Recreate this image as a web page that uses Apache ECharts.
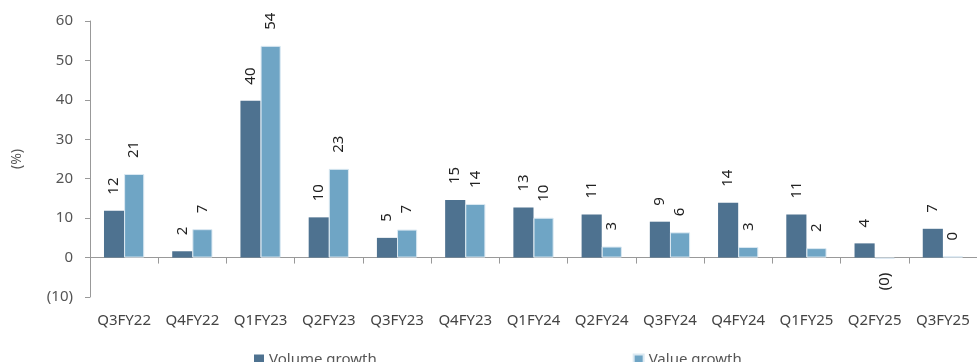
<!DOCTYPE html>
<html>
<head>
<meta charset="utf-8">
<script src="https://cdn.jsdelivr.net/npm/echarts@6/dist/echarts.min.js"></script>
<style>
  html, body { margin: 0; padding: 0; background: #fff; }
  #chart { width: 977px; height: 362px; }
</style>
</head>
<body>
<div id="chart"></div>
<script>
var quarters = ['Q3FY22', 'Q4FY22', 'Q1FY23', 'Q2FY23', 'Q3FY23', 'Q4FY23', 'Q1FY24',
    'Q2FY24', 'Q3FY24', 'Q4FY24', 'Q1FY25', 'Q2FY25', 'Q3FY25'];
var volumeGrowth = [11.9, 1.6, 39.8, 10.2, 5.0, 14.6, 12.7, 10.9, 9.1, 13.9, 10.9, 3.6, 7.3];
var valueGrowth = [21.2, 7.2, 53.7, 22.5, 7.1, 13.6, 10.1, 2.8, 6.4, 2.7, 2.4, -0.3, 0.3];
var yTicks = { min: -10, max: 60, interval: 10 };

function fmt(v) {
    var r = Math.round(Math.abs(v));
    return v < 0 ? '(' + r + ')' : '' + r;
}

function toItems(arr) {
    return arr.map(function (v) {
        if (v < 0) {
            return { value: v, label: { position: 'bottom', align: 'right', distance: 14 } };
        }
        return v;
    });
}

var labelStyle = {
    show: true,
    position: 'top',
    rotate: 90,
    align: 'left',
    verticalAlign: 'middle',
    distance: 16,
    fontSize: 15,
    color: '#222',
    fontFamily: 'Noto Sans',
    formatter: function (p) { return fmt(p.value); }
};

var myChart = echarts.init(document.getElementById('chart'));
var option = {
    backgroundColor: '#fff',
    animation: false,
    textStyle: { fontFamily: 'Noto Sans' },
    grid: { left: 90, right: 0, top: 21, bottom: 65, outerBoundsMode: 'none', containLabel: false },
    legend: {
        left: 249,
        top: 347,
        itemGap: 256,
        itemWidth: 10,
        itemHeight: 10,
        icon: 'rect',
        textStyle: { fontSize: 15, color: '#555' },
        data: ['Volume growth', 'Value growth']
    },
    xAxis: {
        type: 'category',
        data: quarters,
        axisLine: { onZero: true, lineStyle: { color: '#999' } },
        axisTick: { show: true, length: 6, lineStyle: { color: '#999' } },
        axisLabel: { margin: 16, fontSize: 15, color: '#444', interval: 0 }
    },
    yAxis: {
        type: 'value',
        min: yTicks.min,
        max: yTicks.max,
        interval: yTicks.interval,
        name: '(%)',
        nameLocation: 'middle',
        nameRotate: 90,
        nameGap: 66,
        nameTextStyle: { fontSize: 14, color: '#555' },
        splitLine: { show: false },
        axisLine: { show: true, lineStyle: { color: '#999' } },
        axisTick: { show: true, length: 5, lineStyle: { color: '#999' } },
        axisLabel: {
            margin: 17,
            fontSize: 15,
            color: '#555',
            formatter: function (v) { return fmt(v); }
        }
    },
    series: [{
        name: 'Volume growth',
        type: 'bar',
        data: toItems(volumeGrowth),
        barGap: '0%',
        barCategoryGap: '41%',
        itemStyle: { color: '#4e7290' },
        label: labelStyle
    }, {
        name: 'Value growth',
        type: 'bar',
        data: toItems(valueGrowth),
        barGap: '0%',
        barCategoryGap: '41%',
        itemStyle: { color: '#6fa5c5', borderColor: '#dbe9f2', borderWidth: 1 },
        label: labelStyle
    }]
};
myChart.setOption(option);
</script>
</body>
</html>
